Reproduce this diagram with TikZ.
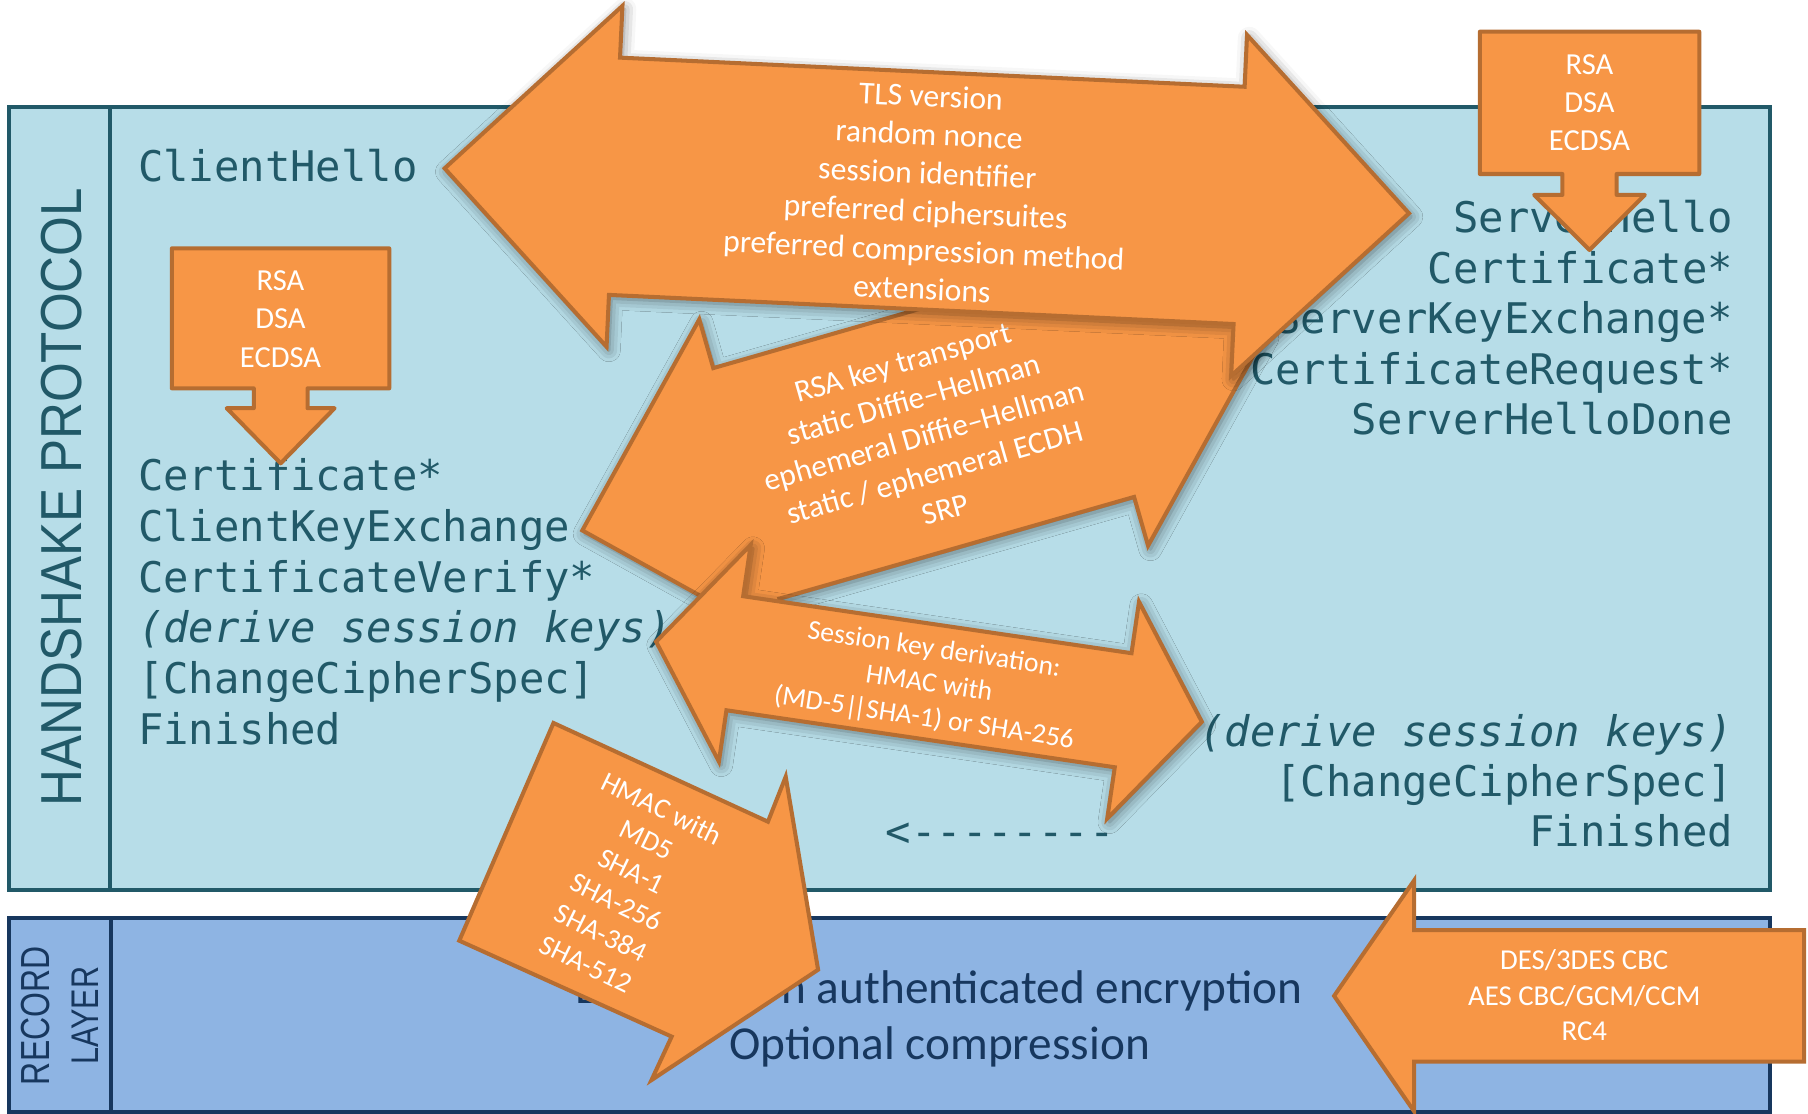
\documentclass[tikz,border=0pt]{standalone}
\usepackage{graphicx}
\usepackage{fontspec}
\setmainfont{Carlito}
\newfontfamily\monofont{DejaVu Sans Mono}
\newfontfamily\lblfont{Liberation Sans}
\usetikzlibrary{shadows.blur}
\definecolor{hsfill}{HTML}{B7DDE8}
\definecolor{hsline}{HTML}{215968}
\definecolor{rlfill}{HTML}{8EB4E3}
\definecolor{rlline}{HTML}{17375E}
\definecolor{orfill}{HTML}{F79646}
\definecolor{orline}{HTML}{B66D31}
\tikzset{
  orangeshape/.style={fill=orfill, draw=orline, line width=3.5pt, line join=miter},
  calloutshape/.style={fill=orfill, draw=orline, line width=3.5pt, line join=round},
  shadowed/.style={blur shadow={shadow xshift=2pt, shadow yshift=-3pt, shadow blur radius=10pt, shadow opacity=50}},
  mono/.style={font=\monofont\fontsize{36.6}{44}\selectfont, text=hsline, inner sep=0pt},
  wtext/.style={text=white, inner sep=0pt, align=center},
  rectext/.style={font=\fontsize{41}{49}\selectfont, text=rlline, inner sep=0pt},
  boxline/.style={line width=3.5pt},
}
% #1 x, #2 y (tip), #3 angle, #4 length, #5 head length, #6 head half width, #7 shaft half width
\newcommand{\DArrowShape}[7]{%
  \begin{scope}[shift={(#1,#2)}, rotate=#3]
    \draw[orangeshape, shadowed] (0,0) -- (#5,-#6) -- (#5,-#7) -- ({#4-#5},-#7) -- ({#4-#5},-#6) -- (#4,0)
      -- ({#4-#5},#6) -- ({#4-#5},#7) -- (#5,#7) -- (#5,#6) -- cycle;
  \end{scope}}
\begin{document}
\begin{tikzpicture}[x=1pt,y=-1pt]
\useasboundingbox (0,0) rectangle (1568,966);
\clip (0,0) rectangle (1568,966);

% ---- layer boxes
\draw[boxline, draw=hsline, fill=hsfill] (7.5,92.8) rectangle (1535,772);
\draw[boxline, draw=hsline] (95.5,92.8) -- (95.5,772);
\draw[boxline, draw=rlline, fill=rlfill] (8,796.5) rectangle (1535,964.5);
\draw[boxline, draw=rlline] (96,796.5) -- (96,964.5);

\node[rotate=90, text=hsline, inner sep=0pt] (hslabel) at (53,431) {\lblfont\resizebox{536pt}{35pt}{HANDSHAKE PROTOCOL}};
\node[rotate=90, text=rlline, inner sep=0pt] (rllabel1) at (31.1,881) {\lblfont\resizebox{120pt}{24.6pt}{RECORD}};
\node[rotate=90, text=rlline, inner sep=0pt] (rllabel2) at (73.8,881) {\lblfont\resizebox{85pt}{23pt}{LAYER}};

% ---- client messages
\node[mono, anchor=base west] (chello) at (119.5,157) {ClientHello};
\node[mono, anchor=base west] (ccert) at (119.5,425.5) {Certificate*};
\node[mono, anchor=base west] (ckex) at (119.5,469.5) {ClientKeyExchange};
\node[mono, anchor=base west] (cver) at (119.5,513.5) {CertificateVerify*};
\node[mono, anchor=base west] (cder) at (119.5,557.5) {\itshape (derive session keys)};
\node[mono, anchor=base west] (cccs) at (119.5,601.5) {[ChangeCipherSpec]};
\node[mono, anchor=base west] (cfin) at (119.5,645.5) {Finished};

% ---- server messages
\node[mono, anchor=base east] (shello) at (1503,202) {ServerHello};
\node[mono, anchor=base east] (scert) at (1503,245.8) {Certificate*};
\node[mono, anchor=base east] (skex) at (1503,289.6) {ServerKeyExchange*};
\node[mono, anchor=base east] (sreq) at (1503,333.4) {CertificateRequest*};
\node[mono, anchor=base east] (sdone) at (1503,377.2) {ServerHelloDone};
\node[mono, anchor=base east] (sder) at (1503,647.6) {\itshape (derive session keys)};
\node[mono, anchor=base east] (sccs) at (1503,691) {[ChangeCipherSpec]};
\node[mono, anchor=base east] (sfin) at (1503,734.5) {Finished};
\node[mono, anchor=base west] (dash) at (768,734.5) {<--------};

% ---- record layer text
\node[rectext, anchor=base west] (encE) at (499,870) {E};
\node[rectext, anchor=base east] (enc) at (1130,870) {n authenticated encryption};
\node[rectext, anchor=base] (comp) at (815,918.5) {Optional compression};

% ---- key exchange arrow
\DArrowShape{505}{460}{16}{616}{148}{148}{104}
\node[wtext, rotate=16, font=\fontsize{27}{33.2}\selectfont] (kex) at (801.4,377.7)
  {RSA key transport\\static Diffie–Hellman\\ephemeral Diffie–Hellman\\static / ephemeral ECDH\\SRP};

% ---- hello arrow
\DArrowShape{385.6}{146}{-2.67}{837.3}{147.5}{148}{103}
\node[wtext, rotate=-2.67, font=\fontsize{27.5}{33.5}\selectfont] (hello) at (803.5,166.8)
  {TLS version\\random nonce\\session identifier\\preferred ciphersuites\\preferred compression method\\extensions};

% ---- session key arrow
\DArrowShape{569}{556.5}{-8.35}{478.4}{69}{95}{50}
\node[wtext, rotate=-8.5, font=\fontsize{24}{30}\selectfont] (skd) at (805.7,593.5)
  {Session key derivation:\\HMAC with\\(MD-5|\kern-0.14em|SHA-1) or SHA-256};

% ---- HMAC arrow
\draw[orangeshape] (480,627) -- (666,712.6) -- (681.4,673.6) -- (709.5,841) -- (565,936.7) -- (582.5,899) -- (398.3,815.8) -- cycle;
\node[wtext, rotate=-26, font=\fontsize{24.5}{30}\selectfont] (hmac) at (541.2,768.5)
  {HMAC with\\MD5\\SHA-1\\SHA-256\\SHA-384\\SHA-512};

% ---- cipher arrow
\draw[orangeshape] (1157,863.7) -- (1226.3,763.7) -- (1226.3,806.7) -- (1564.6,806.7) -- (1564.6,920.7) -- (1226.3,920.7) -- (1226.3,963.7) -- cycle;
\node[wtext, font=\fontsize{25}{31}\selectfont] (ciph) at (1374,863) {DES/3DES CBC\\AES CBC/GCM/CCM\\RC4};

% ---- signature callouts
\draw[calloutshape] (149,215.4) -- (337.6,215.4) -- (337.6,336.8) -- (266.7,336.8) -- (266.7,354) -- (290.2,354)
  -- (243.4,401.8) -- (196.6,354) -- (220.1,354) -- (220.1,336.8) -- (149,336.8) -- cycle;
\node[wtext, font=\fontsize{26.5}{33.3}\selectfont] (csig) at (243.3,276.5) {RSA\\DSA\\ECDSA};
\draw[calloutshape] (1283.4,27.5) -- (1473.7,27.5) -- (1473.7,150.9) -- (1402,150.9) -- (1402,169) -- (1426.5,169)
  -- (1378.5,216.8) -- (1330.5,169) -- (1355,169) -- (1355,150.9) -- (1283.4,150.9) -- cycle;
\node[wtext, font=\fontsize{26.5}{33}\selectfont] (ssig) at (1378.5,89) {RSA\\DSA\\ECDSA};
\end{tikzpicture}
\end{document}
